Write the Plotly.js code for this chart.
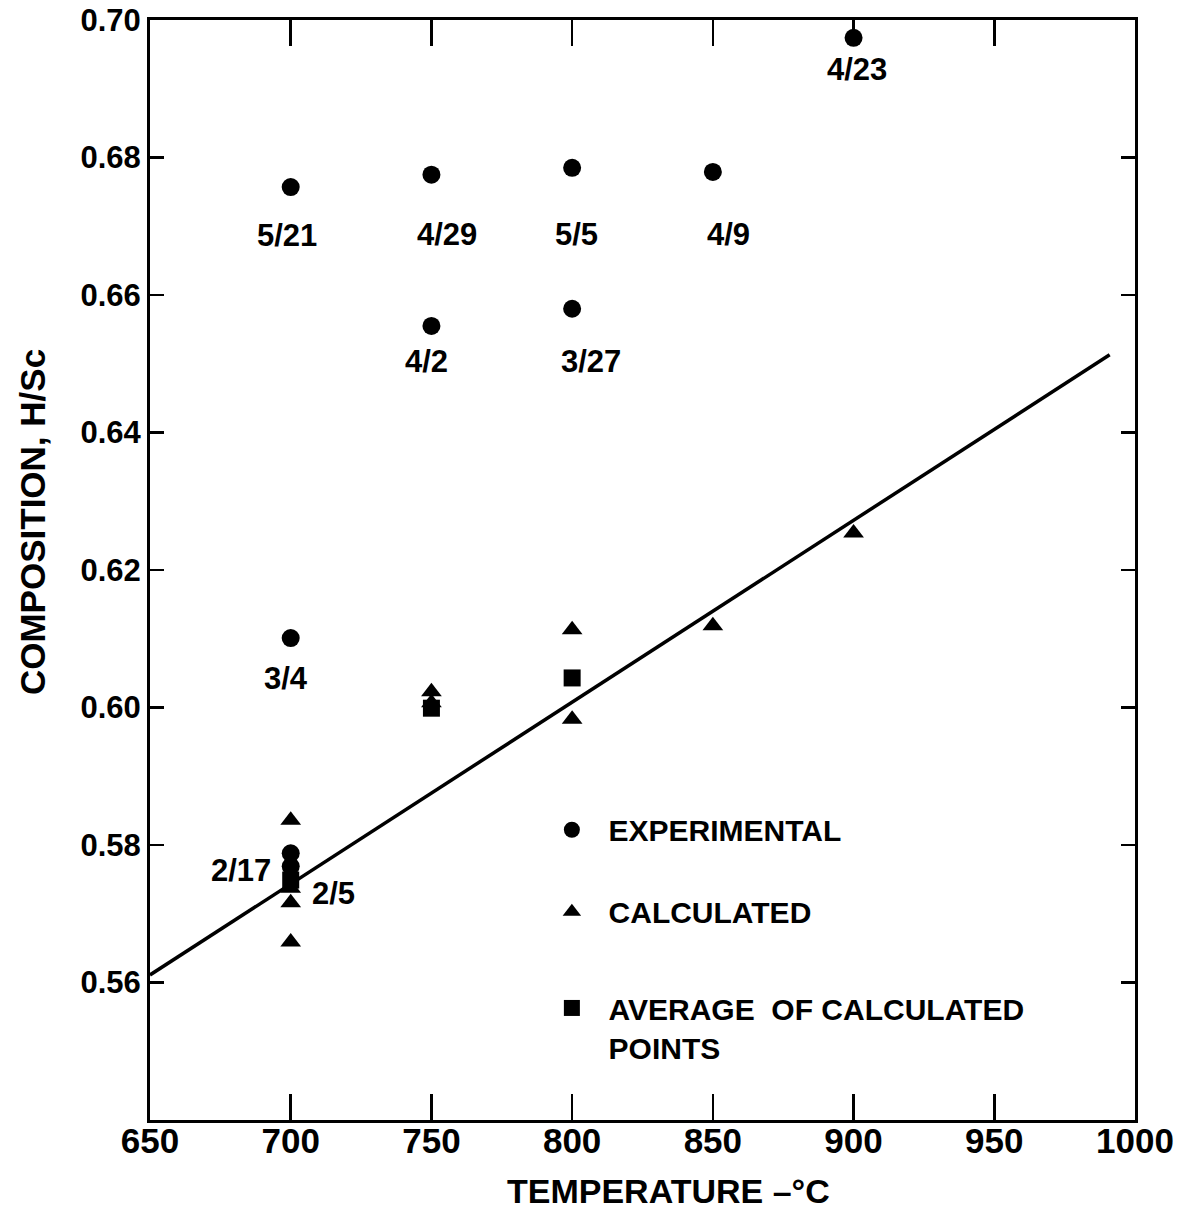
<!DOCTYPE html>
<html>
<head>
<meta charset="utf-8">
<script src="https://cdn.plot.ly/plotly-3.0.1.min.js"></script>
<style>html,body{margin:0;padding:0;background:#fff;}#chart{width:1177px;height:1213px;}</style>
</head>
<body>
<div id="chart"></div>
<script>
// ---- data ----
const expTemp  = [700, 750, 800, 850, 900, 750, 800, 700, 700, 700];
const expComp  = [0.6757, 0.6775, 0.6785, 0.6779, 0.6974, 0.6555, 0.6580, 0.6101, 0.5788, 0.5769];
const expLabel = ["5/21", "4/29", "5/5", "4/9", "4/23", "4/2", "3/27", "3/4", "2/17", "2/5"];

const calcTemp = [700, 700, 700, 700, 750, 750, 800, 800, 850, 900];
const calcComp = [0.5836, 0.5737, 0.5716, 0.5659, 0.6023, 0.6007, 0.6113, 0.5983, 0.6119, 0.6254];

const avgTemp = [700, 750, 800];
const avgComp = [0.5749, 0.5999, 0.6043];

const fitTemp = [650, 991];
const fitComp = [0.5611, 0.6513];

const xTicks = [650, 700, 750, 800, 850, 900, 950, 1000];
const yTicks = [0.56, 0.58, 0.60, 0.62, 0.64, 0.66, 0.68, 0.70];
const yTickText = ["0.56", "0.58", "0.60", "0.62", "0.64", "0.66", "0.68", "0.70"];

// label offsets in pixels (style, not data)
const labelShift = [[-4, -48], [16, -60], [4, -67], [16, -63], [3, -32], [-5, -36], [19, -53], [-5, -40], [-50, -17], [43, -27]];

const FONT = "Liberation Sans, Arial, sans-serif";
const black = "#000";
const NB = "\u00a0\u00a0";

const traces = [
  {x: fitTemp, y: fitComp, mode: "lines", line: {color: black, width: 3.5}, showlegend: false, hoverinfo: "skip"},
  {x: expTemp, y: expComp, mode: "markers", name: NB + "EXPERIMENTAL", legendgroup: "a", legend: "legend",
   marker: {symbol: "circle", size: 18, color: black}},
  {x: calcTemp, y: calcComp, mode: "markers", name: NB + "CALCULATED", legendgroup: "b", legend: "legend",
   marker: {symbol: "triangle-up", size: 18, color: black}},
  {x: avgTemp, y: avgComp, mode: "markers", name: NB + "AVERAGE  OF CALCULATED<br>" + NB + "POINTS", legend: "legend2",
   marker: {symbol: "square", size: 17, color: black}}
];

const annotations = expLabel.map((t, i) => ({
  x: expTemp[i], y: expComp[i], xref: "x", yref: "y", text: t, showarrow: false,
  xshift: labelShift[i][0], yshift: labelShift[i][1],
  font: {family: FONT, size: 31, color: black, weight: "bold"}
}));

annotations.push({
  xref: "paper", yref: "paper", x: 0.526, y: -0.0645, xanchor: "center", yanchor: "middle",
  text: "TEMPERATURE –°C", showarrow: false,
  font: {family: FONT, size: 34, color: black, weight: "bold"}
});
annotations.push({
  xref: "paper", yref: "paper", x: -0.1198, y: 0.5436, xanchor: "center", yanchor: "middle",
  text: "COMPOSITION, H/Sc", showarrow: false, textangle: -90,
  font: {family: FONT, size: 35, color: black, weight: "bold"}
});

const legendFont = {family: FONT, size: 30, color: black, weight: "bold"};

const layout = {
  width: 1177, height: 1213,
  margin: {l: 150, r: 42, t: 20, b: 93, pad: 0},
  paper_bgcolor: "#fff", plot_bgcolor: "#fff",
  showlegend: true,
  legend: {
    x: 0.408, y: 0.2875, xanchor: "left", yanchor: "top",
    font: legendFont, traceorder: "grouped", tracegroupgap: 40, valign: "top",
    bgcolor: "rgba(0,0,0,0)", borderwidth: 0, itemsizing: "trace"
  },
  legend2: {
    x: 0.408, y: 0.1255, xanchor: "left", yanchor: "top",
    font: legendFont, valign: "top",
    bgcolor: "rgba(0,0,0,0)", borderwidth: 0, itemsizing: "trace"
  },
  xaxis: {
    range: [650, 1000], tickvals: xTicks, ticktext: xTicks.map(String),
    showgrid: false, zeroline: false, showline: true, linecolor: black, linewidth: 3,
    mirror: "ticks", ticks: "inside", ticklen: 26, tickwidth: 2.5, tickcolor: black,
    ticklabelstandoff: -12,
    tickfont: {family: FONT, size: 35, color: black, weight: "bold"}
  },
  yaxis: {
    range: [0.54, 0.70], tickvals: yTicks, ticktext: yTickText,
    showgrid: false, zeroline: false, showline: true, linecolor: black, linewidth: 3,
    mirror: "ticks", ticks: "inside", ticklen: 14, tickwidth: 2.5, tickcolor: black,
    tickfont: {family: FONT, size: 31, color: black, weight: "bold"}
  },
  annotations: annotations
};

Plotly.newPlot("chart", traces, layout, {displayModeBar: false, staticPlot: true});
</script>
</body>
</html>
